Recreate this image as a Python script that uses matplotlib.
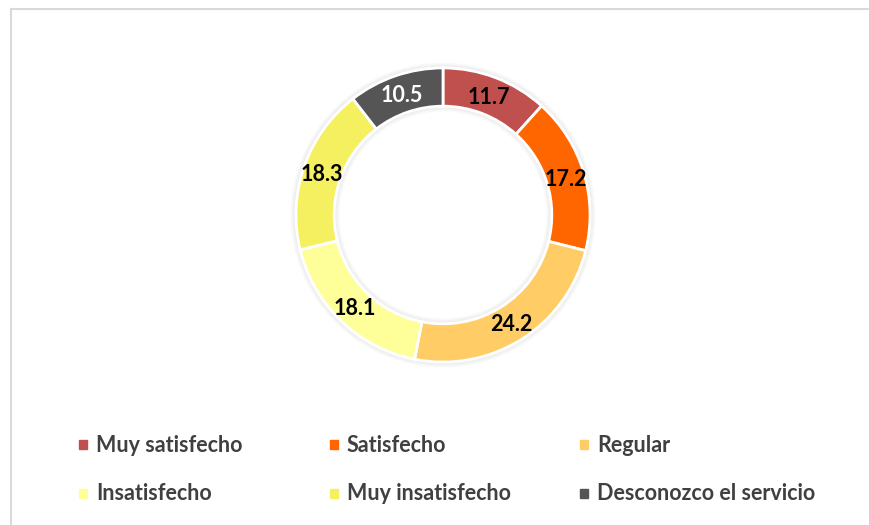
import numpy as np
import matplotlib.pyplot as plt
from matplotlib.lines import Line2D

categories = ['Muy satisfecho', 'Satisfecho', 'Regular',
              'Insatisfecho', 'Muy insatisfecho', 'Desconozco el servicio']
values = [11.7, 17.2, 24.2, 18.1, 18.3, 10.5]
colors = ['#C0504D', '#FF6600', '#FFCC66', '#FFFF99', '#F5F060', '#555555']
label_colors = ['black', 'black', 'black', 'black', 'black', 'white']

plt.rcParams['font.family'] = ['Lato', 'DejaVu Sans']

W, H = 869, 525
fig = plt.figure(figsize=(W / 100, H / 100), dpi=100)

# donut
ax = fig.add_axes([443/W - 300/W/2, 1 - 215/H - 300/H/2, 300/W, 300/H])
# soft shadow behind the ring
for k, a in enumerate([0.05, 0.05, 0.05]):
    ax.pie([1], colors=['#808080'], radius=1.0 + 0.012 * (k + 1),
           wedgeprops=dict(width=0.26 + 0.024 * (k + 1), linewidth=0, alpha=a))
wedges, _ = ax.pie(values, colors=colors, startangle=90, counterclock=False,
                   radius=1.0, wedgeprops=dict(width=0.26, edgecolor='white', linewidth=2))
ax.set_xlim(-1.02, 1.02)
ax.set_ylim(-1.02, 1.02)
ax.set_aspect('equal')

for v, c, w in zip(values, label_colors, wedges):
    mid = np.deg2rad((w.theta1 + w.theta2) / 2)
    r = 0.87
    ax.text(r * np.cos(mid), r * np.sin(mid) - 0.01, f'{v:.1f}', ha='center', va='center',
            fontsize=15.5, fontweight='bold', color=c)

# frame lines (top and left)
fig.add_artist(Line2D([11/W, 1], [1 - 9/H, 1 - 9/H], color='#D9D9D9', lw=1.5,
                      transform=fig.transFigure))
fig.add_artist(Line2D([11/W, 11/W], [0, 1 - 9/H], color='#D9D9D9', lw=1.5,
                      transform=fig.transFigure))

# legend
xs = [83, 334, 584]
ys = [445, 494]
for i, (name, col) in enumerate(zip(categories, colors)):
    x = xs[i % 3]
    y = ys[i // 3]
    fig.add_artist(plt.Rectangle(((x - 4)/W, 1 - (y + 4)/H), 8/W, 9/H,
                                 color=col, transform=fig.transFigure))
    fig.text((x + 13)/W, 1 - y/H, name, ha='left', va='center',
             fontsize=15.5, fontweight='bold', color='#404040')

fig.savefig('out.png', dpi=100)
